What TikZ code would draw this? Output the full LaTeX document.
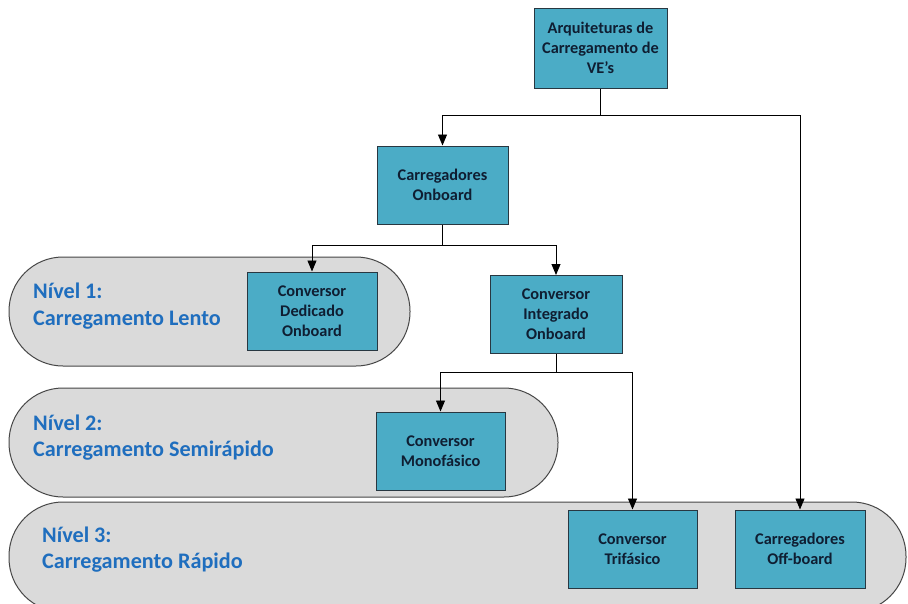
\documentclass[tikz,border=0pt]{standalone}
\usepackage{fontspec}
\setmainfont{Carlito}
\usetikzlibrary{arrows.meta}
\definecolor{boxfill}{RGB}{75,172,198}
\definecolor{boxline}{RGB}{40,55,65}
\definecolor{bandfill}{RGB}{218,218,218}
\definecolor{bandline}{RGB}{70,70,70}
\definecolor{lvlblue}{RGB}{31,110,190}
\definecolor{boxtext}{RGB}{15,30,50}
\tikzset{
  x=1pt, y=-1pt,
  stepbox/.style={draw=boxline, fill=boxfill, line width=1pt, minimum width=130pt, minimum height=78pt,
    align=center, text=boxtext, font=\bfseries\fontsize{16.3}{20}\selectfont, inner sep=2pt},
  band/.style={draw=bandline, fill=bandfill, line width=1pt, rounded corners=54pt},
  lvl/.style={anchor=west, text=lvlblue, font=\bfseries\fontsize{22.2}{27}\selectfont, align=left, inner sep=0pt},
  arr/.style={draw=black, line width=0.9pt, -{Triangle[length=11pt,width=9pt]}},
  ln/.style={draw=black, line width=0.9pt}
}
\begin{document}
\begin{tikzpicture}
\useasboundingbox (0,0) rectangle (908,603);
\fill[white] (0,0) rectangle (908,603);
% bands
\draw[band] (9,257) rectangle (410,366);
\draw[band] (9,388) rectangle (558,497);
\draw[band] (9,502) rectangle (906,612);
% level labels
\node[lvl] (l1a) at (33,291) {Nível 1:};
\node[lvl] (l1b) at (33,320) {Carregamento Lento};
\node[lvl] (l2a) at (33,423) {Nível 2:};
\node[lvl] (l2b) at (33,451) {Carregamento Semirápido};
\node[lvl] (l3a) at (42,535) {Nível 3:};
\node[lvl] (l3b) at (42,563) {Carregamento Rápido};
% boxes
\node[stepbox, minimum width=133pt, minimum height=80pt] (top) at (600.5,48) {Arquiteturas de\\Carregamento de\\VE's};
\node[stepbox, minimum width=131pt] (onb) at (442.5,185) {Carregadores\\Onboard};
\node[stepbox] (ded) at (312,311) {Conversor\\Dedicado\\Onboard};
\node[stepbox, minimum width=132pt] (int) at (556,314.5) {Conversor\\Integrado\\Onboard};
\node[stepbox, minimum width=129pt] (mono) at (440.5,451) {Conversor\\Monofásico};
\node[stepbox, minimum width=129pt] (tri) at (632.5,549) {Conversor\\Trifásico};
\node[stepbox] (off) at (800,549) {Carregadores\\Off-board};
% junctions
\coordinate (j1) at (600.5,115);
\coordinate (j2) at (442.5,245);
\coordinate (j3) at (556,372);
% connectors
\draw[ln] (top.south) -- (j1);
\draw[arr] (j1) -| (onb.north);
\draw[arr] (j1) -| (off.north);
\draw[ln] (onb.south) -- (j2);
\draw[arr] (j2) -| (ded.north);
\draw[arr] (j2) -| (int.north);
\draw[ln] (int.south) -- (j3);
\draw[arr] (j3) -| (mono.north);
\draw[arr] (j3) -| (tri.north);
\end{tikzpicture}
\end{document}
